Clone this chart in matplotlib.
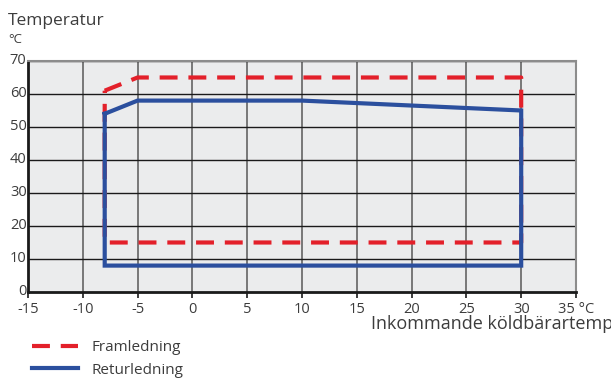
import matplotlib
matplotlib.use('Agg')
import matplotlib.pyplot as plt
import matplotlib.transforms as mtransforms
from matplotlib.lines import Line2D

plt.rcParams['font.family'] = ['Open Sans', 'DejaVu Sans']

# data
fram_x = [-8, -5, 30, 30, -8, -8]
fram_y = [61, 65, 65, 15, 15, 61]
retur_x = [-8, -5, 10, 30, 30, -8, -8]
retur_y = [54, 58, 58, 55, 8, 8, 54]
xticks = [-15, -10, -5, 0, 5, 10, 15, 20, 25, 30, 35]
xticklabels = ['-15', '-10', '-5', '0', '5', '10', '15', '20', '25', '30', '35 °C']
yticks = [0, 10, 20, 30, 40, 50, 60, 70]

red = '#e3202a'
blue = '#2b4f9e'
txt = '#3c3c3c'
dash = (4.3, 2.6)

fig = plt.figure(figsize=(6.11, 3.8), dpi=100)
ax = fig.add_axes([0.0458, 0.2316, 0.8969, 0.6079])
ax.set_facecolor('#ebeced')
ax.set_xlim(-15, 35)
ax.set_ylim(0, 70)

for x in xticks[1:]:
    ax.axvline(x, color='#6e6e6e', lw=1.3, zorder=1)
for y in yticks[1:]:
    ax.axhline(y, color='#1a1a1a', lw=1.0, zorder=1)

ax.plot(fram_x, fram_y, color=red, lw=3, dashes=dash, zorder=3)
ax.plot(retur_x, retur_y, color=blue, lw=3, zorder=4, solid_joinstyle='miter')

ax.set_xticks(xticks)
ax.set_xticklabels(xticklabels)
ax.set_yticks(yticks)
ax.tick_params(axis='both', colors='#1a1a1a', labelcolor=txt, labelsize=10.5,
               length=4, width=1.2)
ax.tick_params(axis='x', pad=3)
ax.tick_params(axis='y', length=0, pad=1)
shift = mtransforms.ScaledTranslation(0, 2 / 100, fig.dpi_scale_trans)
for lbl in ax.get_yticklabels():
    lbl.set_verticalalignment('center_baseline')
    lbl.set_transform(lbl.get_transform() + shift)
for s in ['top', 'right']:
    ax.spines[s].set_color('#8c8c8c')
    ax.spines[s].set_linewidth(1.5)
for s in ['left', 'bottom']:
    ax.spines[s].set_color('#1a1a1a')
    ax.spines[s].set_linewidth(2)

fig.text(0.013, 0.935, 'Temperatur', fontsize=12.5, color=txt, ha='left', va='baseline')
fig.text(0.013, 0.887, '°C', fontsize=9.5, color=txt, ha='left', va='baseline')
fig.text(0.607, 0.133, 'Inkommande köldbärartemperatur', fontsize=13, color=txt,
         ha='left', va='baseline')

handles = [Line2D([], [], color=red, lw=3, dashes=dash),
           Line2D([], [], color=blue, lw=3)]
fig.legend(handles, ['Framledning', 'Returledning'], loc='upper left',
           bbox_to_anchor=(0.052, 0.105), frameon=False, fontsize=11,
           labelcolor=txt, handlelength=3.0, handletextpad=0.9,
           labelspacing=0.5, borderaxespad=0, borderpad=0)

plt.savefig('out.png', dpi=100)
